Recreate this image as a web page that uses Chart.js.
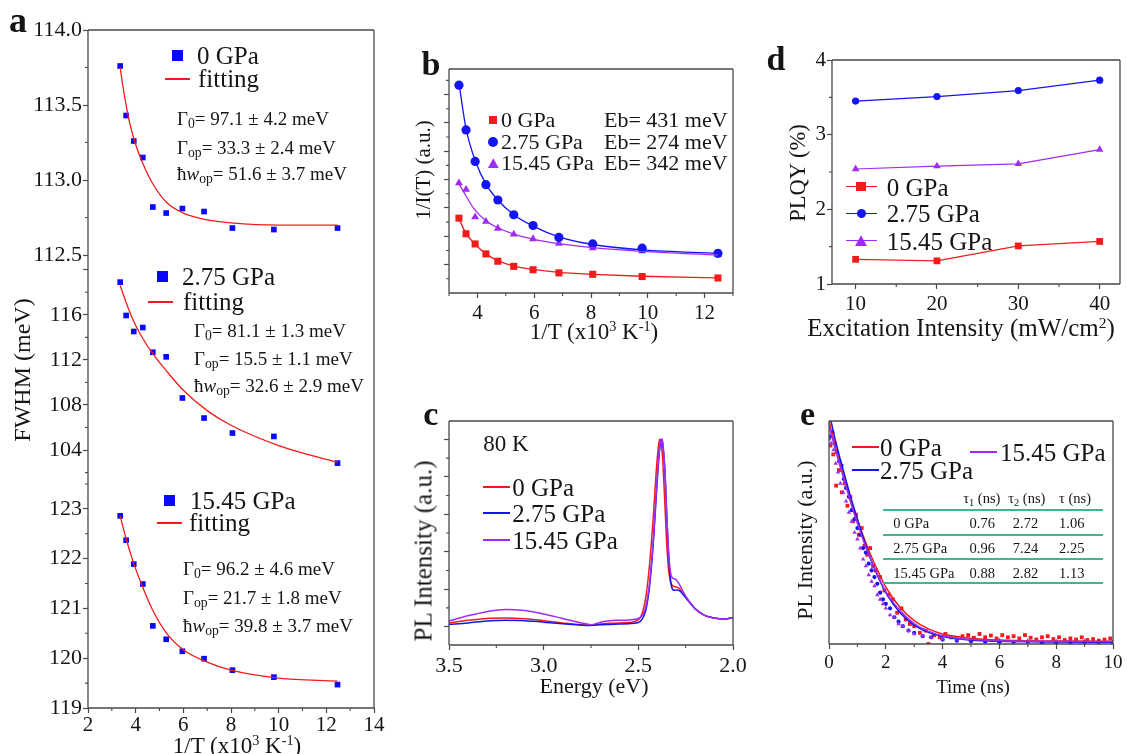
<!DOCTYPE html>
<html>
<head>
<meta charset="utf-8">
<title>PL characterisation under pressure</title>
<script src="https://cdn.jsdelivr.net/npm/chart.js@4.4.1/dist/chart.umd.min.js"></script>
<style>
  body { margin: 0; background: #fff; }
  #fig { position: relative; width: 1127px; height: 754px; overflow: hidden;
         font-family: "Liberation Serif", "Times New Roman", serif; color: #151515; }
  #fig canvas { position: absolute; }
  .t { position: absolute; white-space: nowrap; line-height: 1; }
  .t sub { font-size: 0.72em; vertical-align: -0.28em; line-height: 0; }
  .t sup { font-size: 0.62em; vertical-align: 0.5em; line-height: 0; }
  .mk { position: absolute; }
</style>
</head>
<body>
<div id="fig"></div>
<script>
// ---- data ----

// 1000/T (x10^3 K^-1), shared by panels a and b
const invT = [3.35, 3.6, 3.92, 4.3, 4.72, 5.28, 5.96, 6.87, 8.06, 9.8, 12.47];

// a: FWHM (meV) vs 1/T
const fwhm0    = [113.76, 113.43, 113.26, 113.15, 112.82, 112.78, 112.81, 112.79, 112.68, 112.67, 112.68];
const fwhm275  = [118.9, 115.94, 114.52, 114.87, 112.68, 112.27, 108.62, 106.84, 105.51, 105.21, 102.84];
const fwhm1545 = [122.86, 122.37, 121.89, 121.49, 120.65, 120.38, 120.14, 119.99, 119.76, 119.62, 119.47];
const fitX0    = [3.35, 3.45, 3.6, 3.75, 3.9, 4.1, 4.3, 4.7, 5.3, 6.0, 7.0, 8.0, 10.0, 12.47];
const fitFwhm0 = [113.75, 113.64, 113.5, 113.38, 113.29, 113.19, 113.11, 112.98, 112.85, 112.78, 112.735, 112.715, 112.70, 112.70];
const fitX     = [3.35, 3.6, 3.9, 4.3, 4.7, 5.3, 6.0, 7.0, 8.0, 10.0, 12.47];
const fitFwhm275  = [118.6, 117.1, 115.5, 113.9, 112.6, 111.0, 109.3, 107.5, 106.2, 104.4, 102.9];
const fitFwhm1545 = [122.86, 122.4, 121.93, 121.42, 120.98, 120.5, 120.17, 119.92, 119.76, 119.6, 119.54];
const fitParams = [
  ['97.1 ± 4.2', '33.3 ± 2.4', '51.6 ± 3.7'],
  ['81.1 ± 1.3', '15.5 ± 1.1', '32.6 ± 2.9'],
  ['96.2 ± 4.6', '21.7 ± 1.8', '39.8 ± 3.7']
];

// b: 1/I(T) (a.u.)
const invI0    = [2.64, 2.09, 1.73, 1.38, 1.12, 0.94, 0.82, 0.71, 0.66, 0.58, 0.53];
const invI275  = [7.33, 5.75, 4.64, 3.82, 3.28, 2.76, 2.38, 1.96, 1.73, 1.58, 1.40];
const invI1545 = [3.88, 3.65, 2.68, 2.52, 2.28, 2.07, 1.91, 1.75, 1.59, 1.48, 1.34];
const fitInvI0    = [2.62, 2.1, 1.72, 1.38, 1.14, 0.95, 0.83, 0.73, 0.66, 0.59, 0.53];
const fitInvI275  = [7.4, 5.8, 4.68, 3.84, 3.28, 2.76, 2.36, 1.98, 1.71, 1.52, 1.4];
const fitInvI1545 = [3.85, 3.42, 2.92, 2.55, 2.3, 2.08, 1.9, 1.74, 1.6, 1.47, 1.34];
const bindingEnergy = ['431', '274', '342'];

// c: PL spectra at 80 K
const energy = [3.5, 3.4, 3.3, 3.2, 3.1, 3.0, 2.9, 2.8, 2.75, 2.7, 2.65, 2.6, 2.55, 2.5, 2.48, 2.46, 2.44, 2.42,
  2.41, 2.40, 2.39, 2.385, 2.38, 2.375, 2.37, 2.36, 2.35, 2.34, 2.33, 2.32, 2.31, 2.30, 2.29, 2.28, 2.27, 2.26,
  2.24, 2.22, 2.2, 2.15, 2.1, 2.05, 2.0];
const pl0 = [0.1, 0.17, 0.22, 0.23, 0.21, 0.16, 0.1, 0.05, 0.04, 0.07, 0.09, 0.1, 0.11, 0.18, 0.35, 0.8, 1.7, 3.0,
  3.8, 4.5, 4.95, 5.0, 4.92, 4.7, 4.35, 3.3, 2.2, 1.5, 1.2, 1.1, 1.07, 1.06, 1.04, 1.0, 0.93, 0.86,
  0.72, 0.6, 0.48, 0.3, 0.23, 0.2, 0.24];
const pl275 = [0.06, 0.1, 0.15, 0.17, 0.16, 0.12, 0.08, 0.04, 0.03, 0.05, 0.06, 0.07, 0.08, 0.11, 0.2, 0.45, 1.1, 2.3,
  3.1, 3.9, 4.6, 4.85, 4.97, 5.0, 4.85, 4.2, 3.0, 1.9, 1.25, 1.0, 0.97, 0.98, 0.97, 0.95, 0.9, 0.84,
  0.71, 0.59, 0.47, 0.3, 0.23, 0.2, 0.24];
const pl1545 = [0.15, 0.29, 0.4, 0.46, 0.43, 0.34, 0.22, 0.1, 0.05, 0.12, 0.16, 0.17, 0.18, 0.22, 0.3, 0.55, 1.2, 2.4,
  3.2, 4.0, 4.65, 4.88, 4.97, 5.0, 4.85, 4.2, 3.0, 2.0, 1.45, 1.3, 1.28, 1.25, 1.18, 1.1, 1.0, 0.9,
  0.74, 0.6, 0.48, 0.3, 0.23, 0.2, 0.24];

// d: PLQY (%) vs excitation intensity (mW/cm2)
const excitation = [10, 20, 30, 40];
const plqy0    = [1.33, 1.31, 1.51, 1.57];
const plqy275  = [3.45, 3.51, 3.59, 3.73];
const plqy1545 = [2.54, 2.58, 2.61, 2.80];

// e: TRPL decays (normalised)
const trplT0 = [0.05, 0.15, 0.25, 0.35, 0.45, 0.55, 0.65, 0.75, 0.85, 0.95, 1.05, 1.15, 1.25, 1.35, 1.45, 1.55, 1.65,
  1.8, 1.95, 2.1, 2.25, 2.4, 2.55, 2.7, 2.85, 3.0, 3.2, 3.4, 3.5, 3.7, 3.9,
  4.1, 4.3, 4.5, 4.7, 4.9, 5.1, 5.3, 5.5, 5.7, 5.9, 6.1, 6.3, 6.5, 6.7, 6.9, 7.1, 7.3, 7.5, 7.7, 7.9,
  8.1, 8.3, 8.5, 8.7, 8.9, 9.1, 9.3, 9.5, 9.7, 9.9];
const trpl0 = [0.89, 0.85, 0.71, 0.78, 0.68, 0.72, 0.62, 0.66, 0.55, 0.58, 0.49, 0.52, 0.44, 0.40, 0.43, 0.35, 0.33,
  0.30, 0.24, 0.22, 0.20, 0.14, 0.16, 0.11, 0.09, 0.08, 0.05, 0.06, 0.0, 0.04, 0.03,
  0.045, 0.03, 0.025, 0.035, 0.04, 0.028, 0.045, 0.03, 0.038, 0.025, 0.04, 0.03, 0.035, 0.025, 0.04, 0.028, 0.02, 0.03, 0.035, 0.022,
  0.03, 0.018, 0.025, 0.02, 0.03, 0.018, 0.022, 0.015, 0.02, 0.025];
const trplT275 = [0.05, 0.12, 0.2, 0.28, 0.36, 0.44, 0.52, 0.6, 0.7, 0.8, 0.9, 1.0, 1.1, 1.2, 1.3, 1.4, 1.5, 1.6, 1.7,
  1.8, 1.9, 2.0, 2.15, 2.3, 2.45, 2.6, 2.8, 3.0, 3.3, 3.6, 4.0, 4.5, 5.0, 5.5, 6.0, 6.5, 7.0, 7.5, 8.0, 8.5, 9.0, 9.5, 10.0];
const trpl275 = [0.93, 0.95, 0.9, 0.86, 0.82, 0.8, 0.74, 0.7, 0.66, 0.6, 0.56, 0.52, 0.49, 0.43, 0.41, 0.36, 0.33, 0.3, 0.27,
  0.23, 0.2, 0.18, 0.16, 0.12, 0.1, 0.08, 0.06, 0.05, 0.035, 0.03, 0.02, 0.015, 0.012, 0.01, 0.008, 0.009, 0.01, 0.007, 0.006, 0.008, 0.008, 0.007, 0.006];
const trplT1545 = [0.0, 0.08, 0.16, 0.24, 0.32, 0.4, 0.5, 0.6, 0.7, 0.8, 0.9, 1.0, 1.1, 1.2, 1.3, 1.4, 1.5, 1.6, 1.7, 1.8,
  1.9, 2.0, 2.15, 2.3, 2.45, 2.6, 2.8, 3.0, 3.3, 3.6, 4.0, 4.5, 5.0, 5.5, 6.0, 7.0, 8.0, 9.0, 10.0];
const trpl1545 = [0.92, 0.9, 0.87, 0.81, 0.77, 0.72, 0.68, 0.64, 0.59, 0.55, 0.5, 0.47, 0.43, 0.38, 0.35, 0.31, 0.28, 0.26, 0.22, 0.2,
  0.18, 0.16, 0.13, 0.12, 0.09, 0.08, 0.06, 0.045, 0.035, 0.028, 0.022, 0.02, 0.018, 0.015, 0.016, 0.014, 0.012, 0.013, 0.012];
const fitT = [0, 0.25, 0.5, 0.75, 1, 1.25, 1.5, 1.75, 2, 2.5, 3, 3.5, 4, 5, 6, 8, 10];
const fitTrpl0    = [1.0, 0.875, 0.76, 0.655, 0.56, 0.47, 0.39, 0.32, 0.255, 0.165, 0.105, 0.068, 0.045, 0.026, 0.018, 0.013, 0.012];
const fitTrpl275  = [1.04, 0.9, 0.78, 0.665, 0.56, 0.46, 0.37, 0.295, 0.23, 0.14, 0.085, 0.052, 0.033, 0.017, 0.012, 0.009, 0.008];
const fitTrpl1545 = [0.98, 0.86, 0.75, 0.64, 0.54, 0.45, 0.37, 0.3, 0.235, 0.15, 0.092, 0.058, 0.037, 0.02, 0.015, 0.012, 0.011];
const lifetimes = [
  ['0 GPa', '0.76', '2.72', '1.06'],
  ['2.75 GPa', '0.96', '7.24', '2.25'],
  ['15.45 GPa', '0.88', '2.82', '1.13']
];

// tick positions
const aXTicks = [2, 4, 6, 8, 10, 12, 14];
const aY0Ticks = [112.5, 113.0, 113.5, 114.0];
const aY1Ticks = [104, 108, 112, 116, 120];
const aY2Ticks = [119, 120, 121, 122, 123];
const bXTicks = [4, 6, 8, 10, 12];
const cXTicks = [2.0, 2.5, 3.0, 3.5];
const dXTicks = [10, 20, 30, 40];
const dYTicks = [1, 2, 3, 4];
const eXTicks = [0, 2, 4, 6, 8, 10];

// ---- drawing ----

const fig = document.getElementById('fig');
const AXIS = '#4a4a4a';
const SERIF = '"Liberation Serif", "Times New Roman", serif';
const RED = '#f01c1c', BLUE = '#1414f4', PURPLE = '#a02cf4';
const SQ_BLUE = '#0808ff';

function pts(xs, ys) { return xs.map((x, i) => ({x, y: ys[i]})); }

// box outline plus short minor ticks on the left / bottom edges
function frame(sides, minor) {
  return {
    id: 'frame',
    afterDraw(chart) {
      const {ctx, chartArea: a} = chart;
      ctx.save();
      ctx.strokeStyle = AXIS;
      ctx.lineWidth = 1.3;
      ctx.beginPath();
      if (sides.includes('t')) { ctx.moveTo(a.left, a.top); ctx.lineTo(a.right, a.top); }
      if (sides.includes('b')) { ctx.moveTo(a.left, a.bottom); ctx.lineTo(a.right, a.bottom); }
      if (sides.includes('l')) { ctx.moveTo(a.left, a.top); ctx.lineTo(a.left, a.bottom); }
      if (sides.includes('r')) { ctx.moveTo(a.right, a.top); ctx.lineTo(a.right, a.bottom); }
      ctx.stroke();
      ctx.lineWidth = 1.1;
      ctx.beginPath();
      Object.entries(minor).forEach(([id, vals]) => {
        const s = chart.scales[id];
        vals.forEach(v => {
          const p = s.getPixelForValue(v);
          if (s.isHorizontal()) { ctx.moveTo(p, a.bottom); ctx.lineTo(p, a.bottom + 3); }
          else { ctx.moveTo(a.left - 3, p); ctx.lineTo(a.left, p); }
        });
      });
      ctx.stroke();
      ctx.restore();
    }
  };
}

function axis(pos, min, max, major, o = {}) {
  return {
    type: 'linear', position: pos, min, max, reverse: !!o.reverse,
    afterBuildTicks: s => { s.ticks = major.map(v => ({value: v})); },
    afterFit: s => { if (pos === 'left') s.width = o.size; else s.height = o.size; },
    grid: {drawOnChartArea: false, drawTicks: !o.noTicks, tickLength: 5, tickWidth: 1.2, tickColor: AXIS},
    border: {display: false},
    ticks: {
      autoSkip: false, maxRotation: 0, padding: o.pad ?? 1, color: '#151515',
      font: {family: SERIF, size: o.font || 21},
      callback: v => (o.digits == null || (o.skip || []).includes(v)) ? '' : Number(v).toFixed(o.digits)
    }
  };
}

function hiddenX(min, max) { return {type: 'linear', display: false, min, max}; }

function panel(box, plot, datasets, scales, sides, minor) {
  const cv = document.createElement('canvas');
  cv.width = box.w; cv.height = box.h;
  cv.style.left = box.x + 'px'; cv.style.top = box.y + 'px';
  fig.appendChild(cv);
  const xHidden = scales.x.display === false;
  return new Chart(cv, {
    type: 'scatter',
    data: {datasets},
    options: {
      responsive: false, animation: false, events: [],
      layout: {autoPadding: false, padding: {
        left: 0, top: plot.top - box.y, right: box.x + box.w - plot.right,
        bottom: xHidden ? box.y + box.h - plot.bottom : 0}},
      plugins: {legend: {display: false}, tooltip: {enabled: false}},
      scales
    },
    plugins: [frame(sides, minor)]
  });
}

function dots(xs, ys, color, style, r) {
  return {data: pts(xs, ys), showLine: false, pointStyle: style, pointRadius: r,
          pointBackgroundColor: color, pointBorderColor: color, pointBorderWidth: 0};
}
function curve(xs, ys, color, w) {
  return {data: pts(xs, ys), showLine: true, pointRadius: 0, borderColor: color, borderWidth: w,
          cubicInterpolationMode: 'monotone', fill: false};
}
function polyline(xs, ys, color, style, r) {
  return {data: pts(xs, ys), showLine: true, borderColor: color, borderWidth: 1.2, tension: 0,
          pointStyle: style, pointRadius: r, pointBackgroundColor: color, pointBorderColor: color, pointBorderWidth: 0};
}

// a: three stacked FWHM plots sharing the x axis
panel({x: 0, y: 0, w: 400, h: 290}, {left: 88, top: 30, right: 374, bottom: 257},
  [curve(fitX0, fitFwhm0, RED, 1.3), dots(invT, fwhm0, SQ_BLUE, 'rect', 4)],
  {x: hiddenX(2, 14), y: axis('left', 112.487, 114.0, aY0Ticks, {size: 88, digits: 1, font: 22})},
  'tlr', {y: [112.75, 113.25, 113.75]});

panel({x: 0, y: 230, w: 400, h: 280}, {left: 88, top: 257, right: 374, bottom: 478},
  [curve(fitX, fitFwhm275, RED, 1.3), dots(invT, fwhm275, SQ_BLUE, 'rect', 4)],
  {x: hiddenX(2, 14), y: axis('left', 101.52, 121.13, aY1Ticks, {size: 88, digits: 0, font: 22, skip: [120]})},
  'lr', {y: [102, 106, 110, 114, 118]});

panel({x: 0, y: 450, w: 400, h: 304}, {left: 88, top: 478, right: 374, bottom: 708},
  [curve(fitX, fitFwhm1545, RED, 1.3), dots(invT, fwhm1545, SQ_BLUE, 'rect', 4)],
  {x: axis('bottom', 2, 14, aXTicks, {size: 46, digits: 0, font: 21, pad: 0}),
   y: axis('left', 119, 123.62, aY2Ticks, {size: 88, digits: 0, font: 22})},
  'lrb', {x: [3, 5, 7, 9, 11, 13], y: [119.5, 120.5, 121.5, 122.5, 123.5]});

// b: Arrhenius-type plot
panel({x: 400, y: 40, w: 360, h: 320}, {left: 449, top: 69, right: 733, bottom: 293},
  [curve(invT, fitInvI0, RED, 1.3), curve(invT, fitInvI275, BLUE, 1.3), curve(invT, fitInvI1545, PURPLE, 1.3),
   dots(invT, invI0, RED, 'rect', 5), dots(invT, invI275, BLUE, 'circle', 4.6), dots(invT, invI1545, PURPLE, 'triangle', 4.6)],
  {x: axis('bottom', 3, 13, bXTicks, {size: 67, digits: 0, font: 21, pad: 3}),
   y: axis('left', 0, 7.9, [1, 2, 3, 4, 5, 6, 7], {size: 49})},
  'tlrb', {x: [3, 5, 7, 9, 11, 13], y: [0.5, 1.5, 2.5, 3.5, 4.5, 5.5, 6.5, 7.5]});

// c: PL spectra, energy axis runs high to low
panel({x: 400, y: 390, w: 360, h: 364}, {left: 449, top: 421, right: 733, bottom: 645},
  [curve(energy, pl1545, PURPLE, 1.5), curve(energy, pl275, BLUE, 1.5), curve(energy, pl0, RED, 1.5)],
  {x: axis('bottom', 2.0, 3.5, cXTicks, {reverse: true, size: 109, digits: 1, font: 22, pad: 3}),
   y: axis('left', -0.49, 5.49, [0, 1, 2, 3, 4, 5], {size: 49})},
  'tlrb', {x: [2.25, 2.75, 3.25], y: [0.5, 1.5, 2.5, 3.5, 4.5]});

// d: PLQY
panel({x: 760, y: 30, w: 367, h: 330}, {left: 832, top: 60, right: 1120, bottom: 284},
  [polyline(excitation, plqy275, BLUE, 'circle', 3.6), polyline(excitation, plqy1545, PURPLE, 'triangle', 4.4),
   polyline(excitation, plqy0, RED, 'rect', 4.8)],
  {x: axis('bottom', 7.1, 42.5, dXTicks, {size: 76, digits: 0, font: 21, pad: 3}),
   y: axis('left', 1, 4, dYTicks, {size: 72, digits: 0, font: 21})},
  'tlrb', {x: [15, 25, 35], y: [1.5, 2.5, 3.5]});

// e: TRPL decays with fits
panel({x: 770, y: 390, w: 357, h: 364}, {left: 829, top: 421, right: 1113, bottom: 644},
  [curve(fitT, fitTrpl1545, PURPLE, 1.5), curve(fitT, fitTrpl275, BLUE, 1.5), curve(fitT, fitTrpl0, RED, 1.5),
   dots(trplT1545, trpl1545, PURPLE, 'triangle', 2.6), dots(trplT275, trpl275, BLUE, 'circle', 2.1),
   dots(trplT0, trpl0, RED, 'rect', 2.7)],
  {x: axis('bottom', 0, 10, eXTicks, {size: 110, digits: 0, font: 19, pad: 3}),
   y: axis('left', 0, 1, [0, 1], {size: 59, noTicks: true})},
  'tlrb', {x: [1, 3, 5, 7, 9]});

// ---- text, legends, table ----

function label(html, x, y, size, how = 'left') {
  const d = document.createElement('div');
  d.className = 't';
  d.innerHTML = html;
  d.style.left = x + 'px';
  d.style.top = y + 'px';
  d.style.fontSize = size + 'px';
  d.style.transform = how === 'left' ? 'translateY(-50%)'
    : how === 'center' ? 'translate(-50%,-50%)'
    : 'translate(-50%,-50%) rotate(-90deg)';
  fig.appendChild(d);
  return d;
}
function swatch(kind, x, y, s, color) {
  const d = document.createElement('div');
  d.className = 'mk';
  const h = kind === 'tri' ? s * 0.9 : s;
  Object.assign(d.style, {left: (x - s / 2) + 'px', top: (y - h / 2) + 'px', width: s + 'px', height: h + 'px', background: color});
  if (kind === 'circle') d.style.borderRadius = '50%';
  if (kind === 'tri') d.style.clipPath = 'polygon(50% 0, 100% 100%, 0 100%)';
  fig.appendChild(d);
}
// short horizontal stroke, snapped to whole pixels so thin lines stay solid
function rule(x1, x2, y, color, w) {
  const d = document.createElement('div');
  d.className = 'mk';
  const h = Math.max(1, Math.round(w));
  Object.assign(d.style, {left: Math.round(x1) + 'px', top: Math.round(y - h / 2) + 'px',
    width: Math.round(x2 - x1) + 'px', height: h + 'px', background: color});
  fig.appendChild(d);
}

const invTTitle = '1/T (x10<sup>3</sup> K<sup>-1</sup>)';

// a
label('<b>a</b>', 18, 20, 36, 'center');
label('FWHM (meV)', 22, 370, 24, 'rot');
label(invTTitle, 237, 745, 23, 'center');
const aLegend = [
  {name: '0 GPa', mark: [177, 55], text: 197, line: [165, 190, 79], fit: 198, ann: [177, [118, 147, 173]]},
  {name: '2.75 GPa', mark: [162, 276], text: 182, line: [148, 173, 302], fit: 183, ann: [194, [330, 358, 385]]},
  {name: '15.45 GPa', mark: [169.5, 500], text: 190, line: [157, 182, 523], fit: 189, ann: [183, [568, 597, 625]]}
];
aLegend.forEach((g, i) => {
  swatch('sq', g.mark[0], g.mark[1], 11, SQ_BLUE);
  label(g.name, g.text, g.mark[1], 25);
  rule(g.line[0], g.line[1], g.line[2], RED, 1.6);
  label('fitting', g.fit, g.line[2] - 1, 25);
  const [x, ys] = g.ann;
  label('Γ<sub>0</sub>= ' + fitParams[i][0] + ' meV', x, ys[0], 19);
  label('Γ<sub>op</sub>= ' + fitParams[i][1] + ' meV', x, ys[1], 19);
  label('ħ<i>w</i><sub>op</sub>= ' + fitParams[i][2] + ' meV', x, ys[2], 19);
});

// b
label('<b>b</b>', 431, 64, 34, 'center');
label('1/I(T) (a.u.)', 423, 170, 21, 'rot');
label(invTTitle, 594, 331, 23, 'center');
[['sq', 8, RED, '0 GPa', 120], ['circle', 10, BLUE, '2.75 GPa', 141.7], ['tri', 11, PURPLE, '15.45 GPa', 163.3]]
  .forEach(([k, s, c, n, y], i) => {
    swatch(k, 493.3, y, s, c);
    label(n, 501, y, 22);
    label('Eb= ' + bindingEnergy[i] + ' meV', 604, y, 22);
  });

// c
label('<b>c</b>', 430.7, 414, 34, 'center');
label('80 K', 483.3, 443.3, 23);
label('PL Intensity (a.u.)', 422.5, 551, 25, 'rot');
label('Energy (eV)', 594, 686, 22, 'center');
[[RED, '0 GPa', 486.7], [BLUE, '2.75 GPa', 513.3], [PURPLE, '15.45 GPa', 540]].forEach(([c, n, y]) => {
  rule(483.3, 510, y, c, 2);
  label(n, 512.3, y, 25);
});

// d
label('<b>d</b>', 776, 59, 34, 'center');
label('PLQY (%)', 798, 172.5, 22.5, 'rot');
label('Excitation Intensity (mW/cm<sup>2</sup>)', 961, 327, 25, 'center');
[['sq', 9.3, RED, '0 GPa', 186.7], ['circle', 9, BLUE, '2.75 GPa', 213.3], ['tri', 12, PURPLE, '15.45 GPa', 240.7]]
  .forEach(([k, s, c, n, y]) => {
    rule(846, 877, y, c, 1.4);
    swatch(k, 861, y, s, c);
    label(n, 886.7, y, 25);
  });

// e
label('<b>e</b>', 807.5, 414, 34, 'center');
label('PL Intensity (a.u.)', 805, 540, 22, 'rot');
label('Time (ns)', 973, 686, 19, 'center');
rule(851.7, 878.3, 446.7, RED, 2);   label('0 GPa', 880, 446.7, 25);
rule(851.7, 878.3, 470, BLUE, 2);    label('2.75 GPa', 880, 470, 25);
rule(970, 996.7, 451.7, PURPLE, 2);  label('15.45 GPa', 1000, 451.7, 25);

const GREEN = '#3cb98c';
const colX = [981.8, 1026.8, 1075];
label('τ<sub>1</sub> (ns)', colX[0], 498.3, 14.5, 'center');
label('τ<sub>2</sub> (ns)', colX[1], 498.3, 14.5, 'center');
label('τ (ns)', colX[2], 498.3, 14.5, 'center');
[510, 535, 559, 583].forEach(y => rule(883, 1103, y, GREEN, 2));
const valX = [982.3, 1025.5, 1071.7];
lifetimes.forEach((row, i) => {
  const y = [522.7, 548.3, 572.7][i];
  label(row[0], 893.3, y, 14.5);
  row.slice(1).forEach((v, j) => label(v, valX[j], y, 14.5, 'center'));
});
</script>
</body>
</html>
